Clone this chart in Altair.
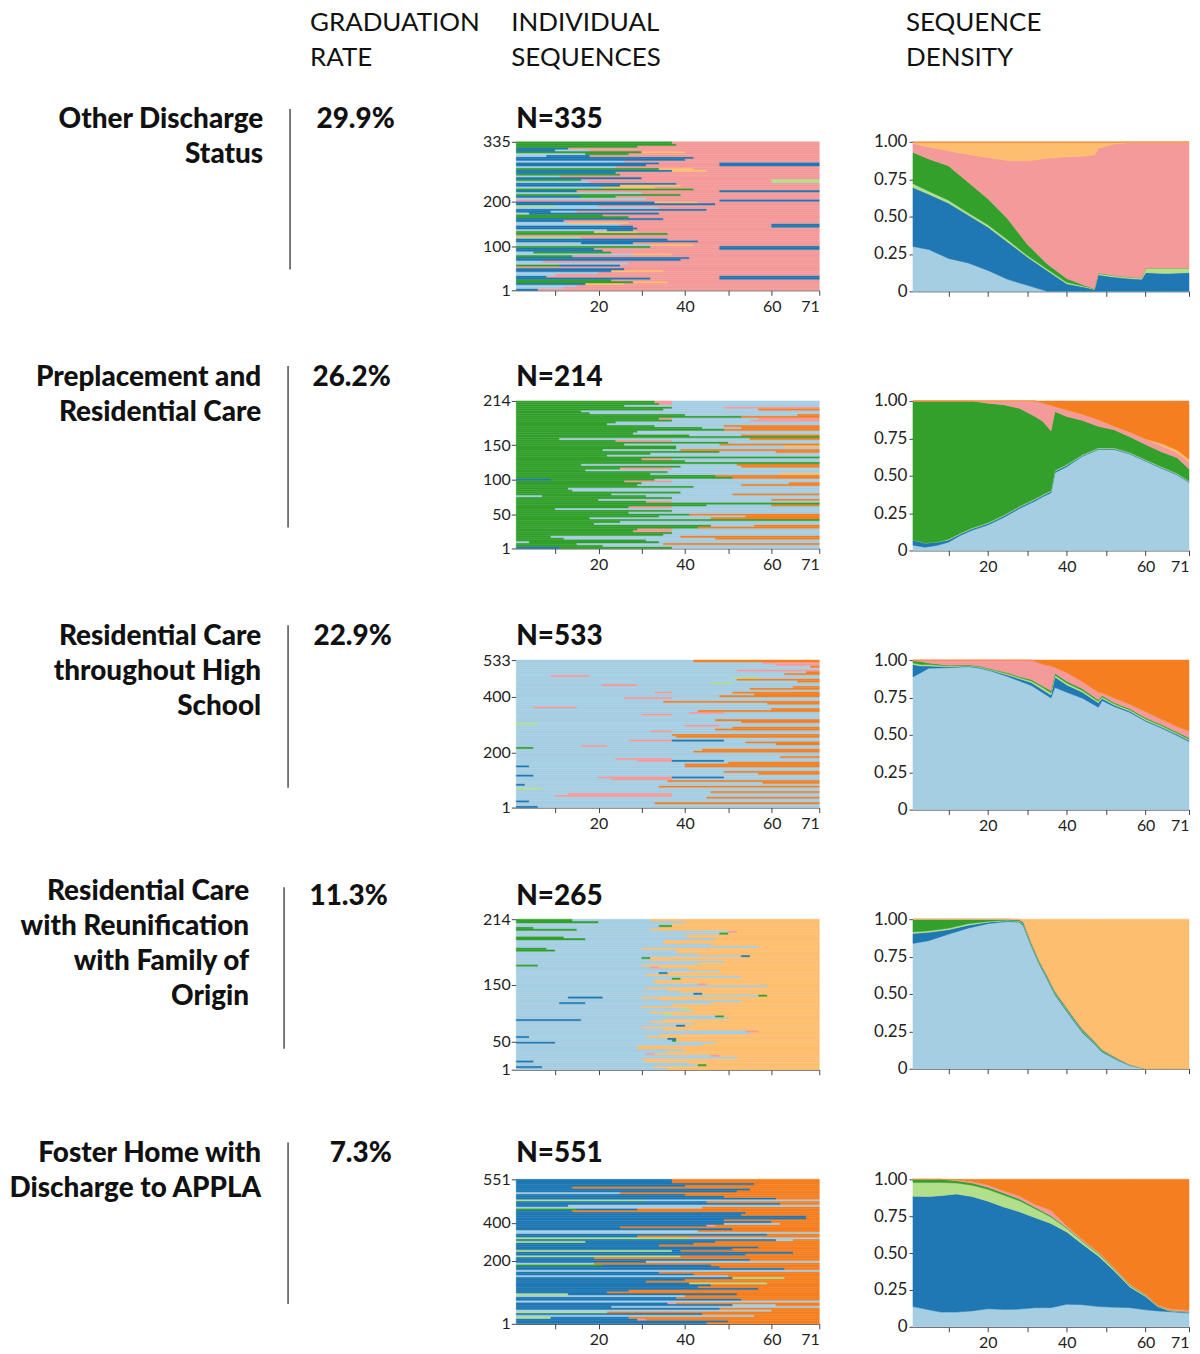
import altair as alt
import pandas as pd

# ---------------------------------------------------------------- data
STATES = ["A", "B", "C", "D", "E", "F", "G", "H"]
COLORS = ["#a6cee3", "#1f78b4", "#b2df8a", "#33a02c", "#f49a9a", "#e31a1c", "#fdbf6f", "#f57f20"]

HEADERS = [["GRADUATION", "RATE"], ["INDIVIDUAL", "SEQUENCES"], ["SEQUENCE", "DENSITY"]]

GROUP_LABELS = [
    ["Other Discharge", "Status"],
    ["Preplacement and", "Residential Care"],
    ["Residential Care", "throughout High", "School"],
    ["Residential Care", "with Reunification", "with Family of", "Origin"],
    ["Foster Home with", "Discharge to APPLA"],
]
GRAD_RATES = ["29.9%", "26.2%", "22.9%", "11.3%", "7.3%"]
N_SEQ = [335, 214, 533, 265, 551]

IDX_TICK_VALUES = [[1, 100, 200, 335], [1, 50, 100, 150, 214], [1, 200, 400, 533],
                   [1, 50, 150, 265], [1, 241, 385, 551]]
IDX_TICK_LABELS = [["1", "100", "200", "335"], ["1", "50", "100", "150", "214"],
                   ["1", "200", "400", "533"], ["1", "50", "150", "214"], ["1", "200", "400", "551"]]
X_TICKS = [10, 20, 30, 40, 50, 60, 71]
X_LABELLED = [20, 40, 60, 71]
DENS_TICKS = [0, 0.25, 0.5, 0.75, 1.0]

# individual sequences (state letter + duration in months; a bare letter runs to month 71)
SEQ_1A = [
    "B5 E", "A14 E", "D27 G8 E", "B31 E16 B", "A9 E", "B22 G12 E", "E", "A26 E",
    "B38 E", "D13 E", "A4 D18 E", "B18 E29 B", "A31 G10 E", "B42 E", "C15 E", "D35 E",
    "A21 B6 E", "B27 E32 B", "A12 G14 E", "B34 E", "D20 E", "B8 A6 E", "A33 E", "B46 E",
    "E47 B", "B15 D8 E", "A29 E", "D41 E", "B24 G14 E", "A17 E42 C", "B29 E", "D24 E",
    "B36 G8 E", "A23 E", "B33 E14 B", "B39 E", "A7 B10 E", "D29 G10 E", "B12 E", "D37 E",
]
SEQ_1B = [
    "A11 E", "B16 G9 E", "D22 E", "B7 E40 B", "A19 E", "B25 E", "D10 B14 E", "A6 E",
    "B40 E", "A27 G9 E", "B20 E", "D31 E16 B", "A15 B12 E", "B35 E", "E", "D18 G10 E",
    "B28 E", "A24 E35 B", "B11 E", "D26 E", "A3 B30 E", "B44 E", "C9 A10 E", "B32 G10 E",
    "A30 E", "D38 E", "B14 E33 B", "A20 G12 E", "B37 E", "D15 E44 C", "A10 E", "B23 E",
    "D33 G8 E", "B30 E17 B", "A25 E", "B41 E", "A16 D10 E", "B9 A8 E", "D28 E", "D36 E",
]
SEQ_2A = [
    "B10 D26 A", "D14 A20 H", "D30 A", "D8 A30 H", "D36 A", "D28 E8 A", "D45 A10 H", "D24 A",
    "D17 A28 H", "D40 H", "D36 A", "D26 E10 A", "D", "D19 A40 H", "A6 D24 A", "D38 A",
    "D12 A", "D28 A24 H", "D25 E11 A", "D50 H", "D31 A30 G", "D16 A", "D38 A14 H", "D",
    "D29 E7 A", "D21 A", "D47 A13 H", "D37 A", "D25 A22 H", "D23 E13 A", "D", "D27 A",
    "D48 H", "D32 A16 H", "D23 A", "D33 E3 A20 E", "D39 A26 H", "D15 A", "D36 A12 E", "D33 E3 A",
]
SEQ_2B = [
    "D20 A", "A3 D30 A", "D11 A35 H", "D34 A", "D27 E9 A", "D42 H", "D18 A", "D",
    "D33 A20 H", "D26 A", "D9 A", "D44 A15 H", "D30 E6 A", "D36 A", "D22 A28 H", "D13 A",
    "D41 A", "D29 A34 H", "B8 D24 A", "D46 H", "D35 A", "D24 E12 A", "D15 A36 H", "D39 A",
    "D", "D31 A", "D20 A18 H", "D37 A25 G", "D49 A", "D10 A44 H", "D40 A12 H", "D28 A",
    "D43 A9 H", "D21 A", "D36 A18 E", "D52 H", "D17 A", "D34 A22 H", "D25 A", "D32 E4 A",
]
SEQ_3A = [
    "B5 A", "A32 H", "A", "A9 E27 A", "A45 H", "C6 A", "B2 A", "A35 H",
    "A19 E17 B12 A", "A56 H", "A", "B3 A36 H", "A49 H", "A23 E13 A", "A", "A41 H",
    "D4 A", "A60 H", "A26 E10 B12 A", "A37 H", "A", "A46 H", "A39 E8 A", "A52 H",
    "A", "A29 E7 A", "A42 H", "A4 E10 A", "A58 H", "A", "A47 H", "A32 E4 A14 H",
    "A54 H", "A20 E8 A", "A65 H", "A50 C6 A", "A62 H", "A51 E", "A68 H", "A57 E",
]
SEQ_3B = [
    "A", "B3 A", "A44 H", "A12 E24 A", "A", "A33 H", "A57 H", "A22 E14 A",
    "B4 A", "A48 H", "A", "A39 H", "A28 E8 B12 A", "A61 H", "A", "A43 H",
    "A15 E6 A", "A53 H", "A", "A36 H", "A31 E5 A", "A50 H", "C5 A", "A46 H",
    "A", "A40 E8 A", "A59 H", "A", "A34 H", "A25 E11 A", "A55 H", "A",
    "A64 H", "A45 C5 A", "A51 H", "A8 E9 A", "A67 H", "A", "A60 E", "A41 H",
]
SEQ_4A = [
    "A35 G", "A42 D2 G", "B4 A26 G", "A51 G", "A30 E2 G", "A39 G", "A28 G", "B9 A37 G",
    "A35 B2 G", "A33 G", "A53 E3 G", "A29 G", "A41 G", "B15 A19 G", "A46 D2 G", "A31 G",
    "A38 C2 G", "A36 G", "A52 G", "A12 B8 A9 G", "A41 B2 G", "A35 G", "A58 G", "A32 G",
    "A36 D2 G", "A30 G", "A47 G", "A31 E2 G", "A42 G", "A31 G", "A52 B2 G", "A37 G",
    "D7 A22 G", "A45 G", "A34 G", "D11 A29 G", "A47 D2 G", "D14 A17 G", "A33 D3 G", "D19 A20 G",
]
SEQ_4B = [
    "B6 A26 G", "A40 G", "A29 G", "A45 E2 G", "A35 G", "A28 G", "A43 G", "A36 D1 G",
    "B3 A27 G", "A54 G", "A34 G", "A37 B2 G", "A31 G", "A49 G", "A34 C2 G", "A41 G",
    "A29 G", "A10 B6 A29 G", "A33 G", "A56 D2 G", "A38 G", "A30 G", "A42 E2 G", "A32 G",
    "A52 G", "A33 B2 G", "A40 G", "D5 A24 G", "A48 G", "A29 D2 G", "A42 G", "D9 A28 G",
    "A56 G", "A34 G", "D16 A30 G", "A39 G", "A49 E2 G", "D4 A29 G", "A36 G", "D13 A18 G",
]
SEQ_5A = [
    "B44 H", "B28 E2 H", "A55 H", "C21 H", "B47 H", "B50 A10 H", "A", "B37 H",
    "C12 B39 H", "B26 H", "B42 H", "B40 C18 H", "B39 H", "A49 H", "B33 H", "B62 H",
    "D20 B25 H", "B30 A", "B18 H", "B53 H", "C36 B2 H", "B56 H", "B41 H", "B60 A4 H",
    "B28 H", "A", "B50 H", "B44 E2 H", "B59 H", "B67 H", "B52 H", "B13 H",
    "A43 H", "B61 H", "C30 A", "B48 H", "A24 H", "B54 H", "B39 H", "B36 H",
]
SEQ_5B = [
    "B49 H", "C8 B18 H", "B43 H", "A59 H", "B22 A", "B35 E2 H", "B52 H", "A39 H",
    "B21 H", "B56 H", "B45 H", "B30 H", "B50 C12 H", "B41 H", "A", "B47 H",
    "A18 H", "B54 H", "C38 H", "B64 H", "B50 H", "B33 H", "C16 B30 H", "C40 A",
    "B58 H", "A42 H", "B24 H", "B48 A13 H", "B48 H", "B67 H", "B53 H", "D14 B14 H",
    "B12 A", "B44 H", "B60 H", "B39 H", "B51 H", "B13 H", "B55 H", "B36 H",
]
SEQUENCES = [(SEQ_1A, SEQ_1B), (SEQ_2A, SEQ_2B), (SEQ_3A, SEQ_3B), (SEQ_4A, SEQ_4B), (SEQ_5A, SEQ_5B)]

# sequence density: share of each state at selected months
DENS_1 = {
    "t": [1, 5, 10, 15, 20, 25, 30, 35, 40, 45, 47, 48, 52, 56, 59, 60, 65, 71],
    "A": [.30, .28, .22, .19, .14, .08, .04, 0, 0, 0, 0, 0, 0, 0, 0, 0, 0, 0],
    "B": [.395, .37, .37, .32, .29, .25, .19, .14, .05, .025, .012, .11, .095, .085, .08, .125, .12, .125],
    "C": [.025, .02, .02, .015, .015, .015, .01, .01, .01, .005, .003, .01, .01, .01, .01, .03, .035, .03],
    "D": [.21, .215, .23, .205, .175, .14, .075, .035, .025, .005, .003, .002, 0, 0, 0, 0, 0, 0],
    "E": [.06, .08, .10, .185, .275, .39, .557, .705, .815, .87, .895, .835, .88, .90, .905, .84, .84, .84],
    "G": [.005, .03, .055, .08, .10, .12, .123, .105, .095, .09, .082, .038, .01, .003, .003, .003, .003, .003],
    "H": [.005, .005, .005, .005, .005, .005, .005, .005, .005, .005, .005, .005, .005, .002, .002, .002, .002, .002],
}
DENS_2 = {
    "t": [1, 4, 7, 10, 13, 16, 20, 24, 28, 32, 34, 36, 37, 40, 44, 48, 52, 56, 60, 64, 68, 71],
    "A": [.035, .022, .033, .055, .10, .135, .17, .22, .28, .33, .36, .385, .52, .56, .63, .675, .675, .645, .597, .55, .505, .455],
    "B": [.035, .028, .022, .015, .01, .01, .01, .01, .01, .01, .01, .01, .01, .01, .005, .005, .005, .005, .005, .005, .005, .005],
    "C": [0, 0, 0, .005, .005, .005, .005, .005, .005, .005, .005, .005, .005, .005, .005, .005, .005, .005, .005, .005, .005, .005],
    "D": [.93, .95, .945, .925, .885, .85, .80, .74, .656, .551, .488, .40, .395, .321, .23, .145, .122, .105, .101, .10, .105, .08],
    "E": [0, 0, 0, 0, 0, 0, .015, .025, .049, .104, .122, .17, .032, .044, .04, .044, .023, .03, .037, .04, .035, .045],
    "G": [0, 0, 0, 0, 0, 0, 0, 0, 0, 0, 0, 0, 0, 0, 0, 0, 0, 0, 0, .015, .015, .02],
    "H": [0, 0, 0, 0, 0, 0, 0, 0, 0, 0, .015, .03, .038, .06, .09, .126, .17, .21, .255, .285, .33, .39],
}
DENS_3 = {
    "t": [1, 3, 5, 10, 15, 18, 21, 25, 28, 31, 34, 36, 37, 40, 44, 48, 49, 52, 56, 60, 64, 68, 71],
    "A": [.887, .916, .945, .949, .956, .945, .925, .89, .86, .83, .78, .746, .817, .784, .745, .684, .728, .69, .65, .59, .545, .495, .455],
    "B": [.083, .044, .015, .006, .004, .005, .005, .01, .015, .02, .02, .02, .07, .05, .04, .03, .015, .01, .008, .008, .008, .008, .008],
    "C": [.01, .01, .01, .005, .004, .005, .005, .008, .008, .01, .015, .015, .012, .012, .012, .01, .01, .008, .008, .008, .008, .008, .008],
    "D": [.015, .02, .01, .005, .004, .005, .005, .007, .007, .01, .01, .015, .013, .012, .012, .01, .01, .008, .008, .008, .008, .008, .01],
    "E": [.005, .01, .02, .035, .032, .04, .06, .085, .11, .13, .145, .164, .038, .058, .046, .051, .017, .03, .03, .04, .035, .035, .045],
    "H": [0, 0, 0, 0, 0, 0, 0, 0, 0, 0, .03, .04, .05, .084, .145, .215, .22, .254, .296, .346, .396, .446, .474],
}
DENS_4 = {
    "t": [1, 5, 10, 15, 20, 25, 28, 29, 31, 33, 35, 37, 39, 42, 44, 47, 49, 53, 56, 60, 65, 71],
    "A": [.838, .856, .90, .94, .97, .985, .98, .955, .82, .70, .60, .495, .42, .31, .24, .165, .11, .055, .02, 0, 0, 0],
    "B": [.067, .056, .03, .02, .01, .005, .005, .01, .008, .008, .008, .008, .008, .008, .008, .007, .005, .004, .002, 0, 0, 0],
    "C": [.01, .01, .01, .01, .005, .003, .003, .005, .004, .004, .004, .004, .004, .004, .004, .003, .002, .002, .002, 0, 0, 0],
    "D": [.085, .078, .06, .03, .015, .007, .007, .01, .01, .01, .01, .01, .01, .01, .01, .008, .008, .005, .003, 0, 0, 0],
    "E": [0, 0, 0, 0, 0, 0, .005, .01, .008, .008, .008, .008, .008, .008, .008, .007, .005, .004, .003, 0, 0, 0],
    "G": [0, 0, 0, 0, 0, 0, 0, .01, .15, .27, .37, .475, .55, .66, .73, .81, .87, .93, .97, 1, 1, 1],
}
DENS_5 = {
    "t": [1, 5, 8, 12, 16, 20, 24, 28, 32, 36, 40, 44, 48, 52, 56, 60, 63, 66, 71],
    "A": [.137, .115, .10, .10, .108, .122, .118, .12, .13, .13, .153, .15, .137, .133, .13, .115, .108, .103, .093],
    "B": [.748, .768, .789, .80, .775, .73, .695, .66, .61, .57, .49, .41, .343, .247, .14, .09, .03, .005, .005],
    "C": [.093, .095, .09, .075, .077, .08, .08, .075, .06, .045, .025, .018, .016, .012, .01, .008, .005, .002, .002],
    "D": [.022, .022, .021, .015, .015, .015, .015, .012, .01, .008, .005, .004, .004, .003, .003, .002, .002, .002, .002],
    "E": [0, 0, 0, .005, .01, .015, .015, .02, .02, .037, .012, .008, .008, .007, .007, .005, .005, .01, .01],
    "H": [0, 0, 0, .005, .015, .038, .077, .113, .17, .21, .315, .41, .492, .598, .71, .78, .85, .878, .888],
}
DENSITIES = [DENS_1, DENS_2, DENS_3, DENS_4, DENS_5]

# ---------------------------------------------------------------- layout (pixels)
FONT = "Lato"
T_MAX = 71
LEFT_W, IDX_W, DEN_W, PANEL_H, HEADER_H = 415, 304, 277, 150, 20
IDX_H = [149, 148, 148, 151, 145]
DEN_H = [150, 150, 150, 150, 148]
COL_GAP, ROW_GAP = 94, 110
LABEL_RIGHT = [255, 253, 253, 241, 253]
LABEL_TOP = [-22, -23, -23, -27, -25]
RATE_Y = [-22, -23, -23, -22, -25]
RULE_X = [282, 280, 280, 276, 280]
RULE_Y = [(-33, 128), (-35, 127), (-35, 128), (-32, 130), (-37, 125)]
RATE_RIGHT = [387, 383, 384, 380, 384]
NTITLE_Y = [-22, -23, -23, -22, -25]
IDX_XLABELS = [True, True, True, False, True]
DEN_XLABELS = [False, True, True, False, True]
HEADER_X = [302, -5, -7]
HEADER_BASE = 19
BIG = 28
BIG_WEIGHT = 900

cscale = alt.Scale(domain=STATES, range=COLORS)
one = pd.DataFrame({"k": [0]})


def text_layer(txt, x, y, size, weight, align="left", baseline="middle"):
    return alt.Chart(one).mark_text(
        align=align, baseline=baseline, font=FONT, fontSize=size,
        fontWeight=weight, color="#111"
    ).encode(x=alt.value(x), y=alt.value(y), text=alt.value(txt))


def seq_frame(pair, n):
    seqs = [s for two in zip(*pair) for s in two]   # interleave the two sets of rows
    recs = []
    step = (n - 1) / len(seqs)
    for i, s in enumerate(seqs):
        t = 1
        for tok in s.split():
            end = t + int(tok[1:]) if len(tok) > 1 else T_MAX
            recs.append({"state": tok[0], "t0": t, "t1": min(end, T_MAX),
                         "y0": 1 + i * step, "y1": 1 + (i + 1) * step})
            t = end
    return pd.DataFrame(recs)


def dens_frame(d):
    recs = []
    for st in STATES:
        if st in d:
            for t, v in zip(d["t"], d[st]):
                recs.append({"t": t, "state": st, "o": STATES.index(st), "v": v})
    return pd.DataFrame(recs)


def label_expr(values, labels):
    expr = "datum.label"
    for v, l in zip(values, labels):
        expr = f"datum.value == {v} ? '{l}' : ({expr})"
    return expr


XL_EXPR = " || ".join(f"datum.value == {v}" for v in X_LABELLED)


def x_axis(show):
    return alt.Axis(values=X_TICKS, labelExpr=f"({XL_EXPR}) ? datum.label : ''",
                    labels=show, title=None, grid=False, domainColor="#444",
                    tickColor="#444", tickSize=5, labelFont=FONT, labelFontSize=16,
                    labelColor="#222", labelPadding=3)


def header_cell(i, width):
    layers = [text_layer(line, HEADER_X[i], HEADER_BASE + 35 * j, 26, "normal",
                         baseline="alphabetic")
              for j, line in enumerate(HEADERS[i])]
    return alt.layer(*layers).properties(width=width, height=HEADER_H)


def left_panel(k):
    layers = []
    for j, line in enumerate(GROUP_LABELS[k]):
        layers.append(text_layer(line, LABEL_RIGHT[k], LABEL_TOP[k] + 35 * j, BIG, BIG_WEIGHT, "right"))
    y1, y2 = RULE_Y[k]
    layers.append(alt.Chart(one).mark_rule(color="#222", strokeWidth=1.2).encode(
        x=alt.value(RULE_X[k]), y=alt.value(y1), y2=alt.value(y2)))
    layers.append(text_layer(GRAD_RATES[k], RATE_RIGHT[k], RATE_Y[k], BIG, BIG_WEIGHT, "right"))
    return alt.layer(*layers).properties(width=LEFT_W, height=PANEL_H)


def index_panel(k):
    n = N_SEQ[k]
    df = seq_frame(SEQUENCES[k], n)
    rects = alt.Chart(df).mark_rect(strokeWidth=0.5).encode(
        x=alt.X("t0:Q", scale=alt.Scale(domain=[1, T_MAX], nice=False, zero=False),
                axis=x_axis(IDX_XLABELS[k])),
        x2="t1:Q",
        y=alt.Y("y0:Q", scale=alt.Scale(domain=[1, n], nice=False, zero=False),
                axis=alt.Axis(values=IDX_TICK_VALUES[k],
                              labelExpr=label_expr(IDX_TICK_VALUES[k], IDX_TICK_LABELS[k]),
                              title=None, grid=False, domain=False, tickColor="#444",
                              tickSize=5, labelFont=FONT, labelFontSize=16,
                              labelColor="#222", labelPadding=1)),
        y2="y1:Q",
        color=alt.Color("state:N", scale=cscale, legend=None),
        stroke=alt.Stroke("state:N", scale=cscale, legend=None),
    )
    title = text_layer(f"N={n}", 0, NTITLE_Y[k], BIG, BIG_WEIGHT)
    return alt.layer(rects, title).properties(width=IDX_W, height=IDX_H[k])


def density_panel(k):
    df = dens_frame(DENSITIES[k])
    return alt.Chart(df).mark_area(interpolate="linear", strokeWidth=0.5).encode(
        x=alt.X("t:Q", scale=alt.Scale(domain=[1, T_MAX], nice=False, zero=False),
                axis=x_axis(DEN_XLABELS[k])),
        y=alt.Y("v:Q", stack="zero", scale=alt.Scale(domain=[0, 1], nice=False),
                axis=alt.Axis(values=DENS_TICKS,
                              labelExpr="datum.value == 0 ? '0' : format(datum.value, '.2f')",
                              title=None, grid=False, domain=False, tickColor="#444",
                              tickSize=4, labelFont=FONT, labelFontSize=17,
                              labelColor="#222", labelPadding=2)),
        color=alt.Color("state:N", scale=cscale, legend=None),
        stroke=alt.Stroke("state:N", scale=cscale, legend=None),
        order=alt.Order("o:Q", sort="ascending"),
    ).properties(width=DEN_W, height=DEN_H[k])


cells = [header_cell(0, LEFT_W), header_cell(1, IDX_W), header_cell(2, DEN_W)]
for k in range(5):
    cells += [left_panel(k), index_panel(k), density_panel(k)]

chart = alt.concat(
    *cells, columns=3, spacing={"row": ROW_GAP, "column": COL_GAP},
    bounds="flush", align="each"
).properties(
    padding={"left": 0, "top": 0, "right": 2, "bottom": 2}
).configure_view(stroke=None)

chart.save("out.html", embed_options={"renderer": "svg", "actions": False})
